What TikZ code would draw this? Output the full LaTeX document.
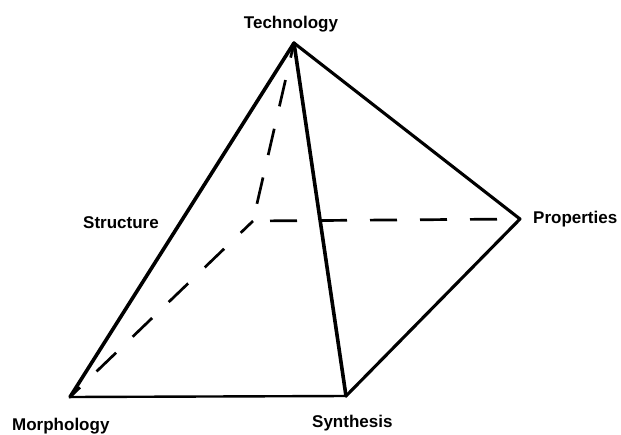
\documentclass[tikz,border=0pt]{standalone}
\usepackage{fontspec}
\setmainfont{Liberation Sans}
\begin{document}
\begin{tikzpicture}[x=1pt,y=-1pt,
  lbl/.style={inner sep=0pt,font=\fontsize{17}{20}\selectfont\bfseries},
  edge/.style={line width=3.6pt,line cap=round,line join=round},
  hid/.style={line width=2.7pt,dash pattern=on 27pt off 23pt}]
\useasboundingbox (0,0) rectangle (621,434);
\coordinate (T) at (294,43);
\coordinate (P) at (520,219);
\coordinate (S) at (346,396);
\coordinate (M) at (70,397);
\coordinate (H) at (253,221);
% hidden edges
\draw[hid,dash phase=12pt] (T) -- (H);
\draw[hid,dash phase=33pt] (H) -- (P);
\draw[hid,dash phase=10pt] (H) -- (M);
% visible edges
\draw[edge] (M) -- (T);
\draw[edge] (T) -- (S);
\draw[edge,line width=3.1pt] (T) -- (P) -- (S);
\draw[edge,line width=2.4pt] (M) -- (S);
% labels
\node[lbl,anchor=base] (tech) at (291,28) {Technology};
\node[lbl,anchor=base west] (struct) at (83,228) {Structure};
\node[lbl,anchor=base west] (prop) at (533,223) {Properties};
\node[lbl,anchor=base west] (morph) at (12,430) {Morphology};
\node[lbl,anchor=base west] (synth) at (312,427) {Synthesis};
\end{tikzpicture}
\end{document}
